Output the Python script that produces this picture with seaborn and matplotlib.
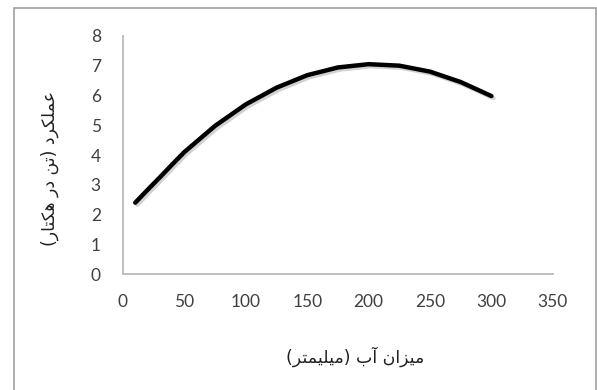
import matplotlib
matplotlib.use("Agg")
import matplotlib.pyplot as plt
import matplotlib.patheffects as pe
from matplotlib.patches import Rectangle
import pandas as pd
import seaborn as sns

# water amount (mm) and yield (t/ha)
water_mm = [10, 20, 30, 40, 50, 75, 100, 125, 150, 175, 200, 225, 250, 275, 300]
yield_t = [2.40, 2.83, 3.25, 3.68, 4.10, 4.98, 5.70, 6.26, 6.68, 6.94, 7.05, 7.00, 6.80, 6.45, 5.98]

x_ticks = [0, 50, 100, 150, 200, 250, 300, 350]
y_ticks = [0, 1, 2, 3, 4, 5, 6, 7, 8]

# Persian labels written in shaped (presentation) forms, visual order,
# since matplotlib does no Arabic-script shaping itself
x_label = "(\uFEAE\uFE98\uFEE4\uFEF4\uFEE0\uFEF4\uFEE3) \uFE8F\uFE81 \uFEE5\uFE8D\uFEB0\uFEF4\uFEE3"  # میزان آب (میلیمتر)
y_label = "(\uFEAD\uFE8E\uFE98\uFB91\uFEEB \uFEAD\uFEA9 \uFEE6\uFE97) \uFEA9\uFEAE\uFB91\uFEE0\uFEE4\uFECB"  # عملکرد (تن در هکتار)

sns.set_theme(style="white")
plt.rcParams["font.family"] = ["Lato", "DejaVu Sans"]

df = pd.DataFrame({"water": water_mm, "yield": yield_t})

fig = plt.figure(figsize=(5.97, 3.90), dpi=100)
ax = fig.add_axes([0.206, 0.297, 0.72, 0.611])

sns.lineplot(data=df, x="water", y="yield", color="black", linewidth=3.2, ax=ax,
             solid_joinstyle="round", solid_capstyle="round",
             path_effects=[pe.SimpleLineShadow(offset=(1.5, -1.5), shadow_color="gray", alpha=0.35),
                           pe.Normal()])

ax.set_xlim(0, 350)
ax.set_ylim(0, 8)
ax.set_xticks(x_ticks)
ax.set_yticks(y_ticks)
ax.tick_params(axis="both", length=0, labelsize=12.5, colors="#404040")
ax.tick_params(axis="x", pad=14)
ax.tick_params(axis="y", pad=16)
ax.set_xlabel("")
ax.set_ylabel("")
for s in ["top", "right"]:
    ax.spines[s].set_visible(False)
for s in ["left", "bottom"]:
    ax.spines[s].set_color("#BFBFBF")
    ax.spines[s].set_linewidth(1.4)

fig.text(355 / 597, 1 - 357 / 390, x_label, ha="center", va="center",
         fontsize=12.5, color="#202020", family=["DejaVu Sans"])
fig.text(50 / 597, 1 - 168 / 390, y_label, ha="center", va="center", rotation=90,
         fontsize=12.5, color="#202020", family=["DejaVu Sans"])

# outer frame around the chart area
fig.patches.append(Rectangle((14 / 597, -0.05), (596 - 14) / 597, 1 - 8 / 390 + 0.05,
                             transform=fig.transFigure, fill=False,
                             edgecolor="#A0A0A0", linewidth=1.2))

fig.savefig("out.png", dpi=100)
